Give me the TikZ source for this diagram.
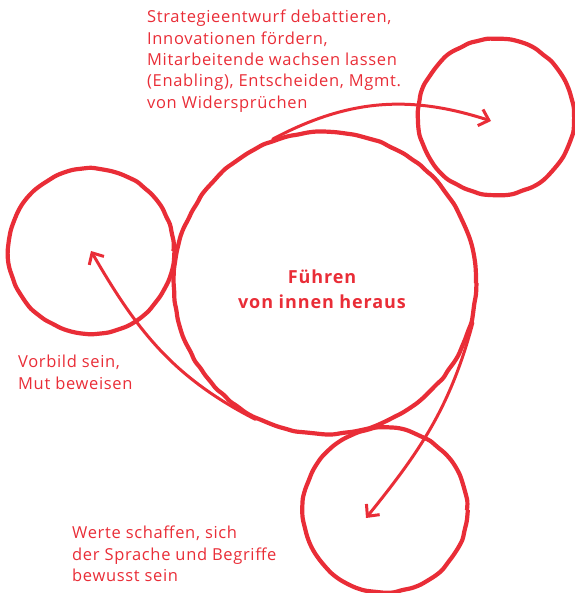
\documentclass[tikz,border=0pt]{standalone}
\usepackage{fontspec}
\setmainfont{Open Sans}
\usetikzlibrary{arrows.meta}
\usetikzlibrary{decorations.pathmorphing}
\definecolor{pen}{RGB}{233,45,55}

\begin{document}
\begin{tikzpicture}[x=1pt,y=-1pt,
	ring/.style={circle, draw=pen, line width=4.2pt, inner sep=0pt,
		decorate, decoration={random steps, segment length=9pt, amplitude=0.7pt}, rounded corners=3pt},
	pfeil/.style={draw=pen, line width=3pt, line cap=round,
		-{Straight Barb[length=9pt,width=17pt,line width=3pt]}},
	notiz/.style={text=pen, align=left, inner sep=0pt, anchor=north west,
		font=\fontsize{16.5}{21.3}\selectfont\addfontfeatures{LetterSpace=4}}]
	\pgfmathsetseed{11}
	\useasboundingbox (0,0) rectangle (574,593);

	% circles
	\node[ring, minimum size=302pt] (main) at (325,283) {};
	\node[ring, minimum size=156pt] (rtop) at (496,117) {};
	\node[ring, minimum size=165pt] (lft) at (91,251) {};
	\node[ring, minimum size=164pt] (bot) at (385,510) {};

	% arrow tips
	\coordinate (rtip) at (491,121);
	\coordinate (btip) at (366,518);

	\draw[pfeil] (main.110) to[out=28, in=162] (rtip);
	\draw[pfeil] (main.243) to[out=153, in=-60] (lft.center);
	\draw[pfeil] (main.-15) to[out=-105, in=51] (btip);

	% texts
	\node[text=pen, align=center, font=\fontsize{18}{24.5}\selectfont\bfseries\addfontfeatures{LetterSpace=5}] (titel) at (322,289)
		{Führen\\von innen heraus};
	\node[notiz] (oben) at (147,10) {Strategieentwurf debattieren,\\Innovationen fördern,\\Mitarbeitende wachsen lassen\\(Enabling), Entscheiden, Mgmt.\\von Widersprüchen};
	\node[notiz] (links) at (18,355) {Vorbild sein,\\Mut beweisen};
	\node[notiz] (unten) at (72,526) {Werte schaffen, sich\\der Sprache und Begriffe\\bewusst sein};
\end{tikzpicture}
\end{document}
